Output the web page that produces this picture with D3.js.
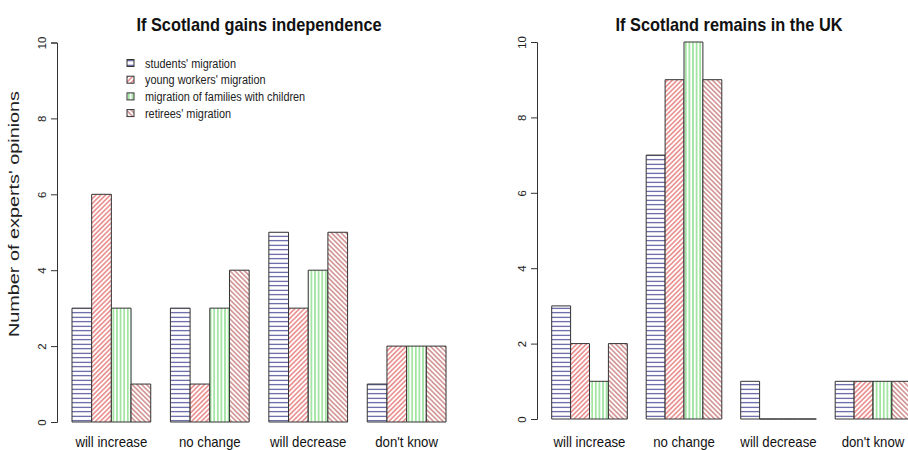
<!DOCTYPE html>
<html>
<head>
<meta charset="utf-8">
<script src="https://cdn.jsdelivr.net/npm/d3@7"></script>
<style>
  html, body { margin: 0; padding: 0; background: #fff; }
  svg { display: block; }
  text { font-family: "Liberation Sans", Arial, Helvetica, sans-serif; }
</style>
</head>
<body>
<svg id="chart" width="908" height="450"></svg>
<script>
// Answer categories along the x axis
const categories = ["will increase", "no change", "will decrease", "don't know"];
// Migration groups (bar series)
const seriesNames = [
  "students' migration",
  "young workers' migration",
  "migration of families with children",
  "retirees' migration"
];
// Experts' answers if Scotland gains independence
const indepStudents = [3, 3, 5, 1];
const indepYoung    = [6, 1, 3, 2];
const indepFamilies = [3, 3, 4, 2];
const indepRetirees = [1, 4, 5, 2];
// Experts' answers if Scotland remains in the UK
const ukStudents = [3, 7, 1, 1];
const ukYoung    = [2, 9, 0, 1];
const ukFamilies = [1, 10, 0, 1];
const ukRetirees = [2, 9, 0, 1];
// y axis ticks
const yTicks = [0, 2, 4, 6, 8, 10];

// The figure is slightly squeezed horizontally: text runs a bit narrower
// than its height suggests, and rotated text a bit longer.
const SQUEEZE = 0.88;
function fitLength(sel, factor) {
  sel.each(function () {
    const len = this.getComputedTextLength();
    d3.select(this)
      .attr("textLength", len * factor)
      .attr("lengthAdjust", "spacingAndGlyphs");
  });
}

const svg = d3.select("#chart");
const defs = svg.append("defs");

// Hatching styles, one per series
const hatch = [
  { id: "h-students", color: "#3c3c8e", angle: 90,  gap: 4.5 },
  { id: "h-young",    color: "#dc4a48", angle: 45,  gap: 3.4 },
  { id: "h-families", color: "#5ad05a", angle: 0,   gap: 3.6 },
  { id: "h-retirees", color: "#b65452", angle: -45, gap: 3.4 }
];
hatch.forEach(h => {
  const p = defs.append("pattern")
    .attr("id", h.id)
    .attr("patternUnits", "userSpaceOnUse")
    .attr("width", h.gap)
    .attr("height", h.gap)
    .attr("patternTransform", `rotate(${h.angle})`);
  p.append("rect").attr("width", h.gap).attr("height", h.gap).attr("fill", "#fff");
  p.append("line")
    .attr("x1", h.gap / 2).attr("x2", h.gap / 2)
    .attr("y1", -1).attr("y2", h.gap + 1)
    .attr("stroke", h.color).attr("stroke-width", 1);
});

function panel(cfg) {
  const g = svg.append("g");
  const x0 = d3.scaleBand().domain(categories)
    .range([cfg.left, cfg.right]).paddingInner(0.2).paddingOuter(0);
  const x1 = d3.scaleBand().domain(d3.range(seriesNames.length))
    .range([0, x0.bandwidth()]).padding(0);
  const y = d3.scaleLinear().domain([0, 10]).range([cfg.bottom, cfg.top]);

  const rows = [];
  categories.forEach((c, ci) => {
    cfg.series.forEach((vals, si) => rows.push({ c, si, v: vals[ci] }));
  });

  // bars as closed paths so zero-height bars still show as a baseline stroke
  g.selectAll("path.bar").data(rows).join("path")
    .attr("class", "bar")
    .attr("d", d => {
      const xa = x0(d.c) + x1(d.si), xb = xa + x1.bandwidth();
      const ya = y(0), yb = y(d.v);
      return `M${xa},${ya}H${xb}V${yb}H${xa}Z`;
    })
    .attr("fill", d => `url(#${hatch[d.si].id})`)
    .attr("stroke", "#333")
    .attr("stroke-width", 1);

  // y axis, base-graphics style: rotated tick labels
  const axis = g.append("g").attr("transform", `translate(${cfg.axisX},0)`)
    .call(d3.axisLeft(y).tickValues(yTicks).tickSize(6).tickPadding(4));
  axis.select(".domain").attr("stroke", "#333");
  axis.selectAll(".tick line").attr("stroke", "#333");
  axis.selectAll(".tick text")
    .attr("font-size", 10)
    .attr("fill", "#222")
    .attr("x", null).attr("dy", null)
    .attr("text-anchor", "middle")
    .attr("transform", "translate(-11.5,0) rotate(-90)")
    .call(fitLength, 1 / SQUEEZE);

  // category labels
  g.selectAll("text.cat").data(categories).join("text")
    .attr("class", "cat")
    .attr("x", d => x0(d) + x0.bandwidth() / 2)
    .attr("y", 447)
    .attr("text-anchor", "middle")
    .attr("font-size", 15)
    .attr("fill", "#111")
    .text(d => d)
    .call(fitLength, SQUEEZE);

  g.append("text")
    .attr("x", cfg.titleX).attr("y", 31)
    .attr("text-anchor", "middle")
    .attr("font-size", 19).attr("font-weight", "bold")
    .attr("fill", "#111")
    .text(cfg.title)
    .call(fitLength, 0.86);
  return g;
}

panel({
  title: "If Scotland gains independence",
  series: [indepStudents, indepYoung, indepFamilies, indepRetirees],
  left: 72, right: 446, top: 42.5, bottom: 422, axisX: 57, titleX: 259
});
panel({
  title: "If Scotland remains in the UK",
  series: [ukStudents, ukYoung, ukFamilies, ukRetirees],
  left: 551.7, right: 910.8, top: 42, bottom: 419, axisX: 537, titleX: 729
});

// y axis title
svg.append("text")
  .attr("transform", "translate(19,214) rotate(-90)")
  .attr("text-anchor", "middle")
  .attr("font-size", 15.5)
  .attr("fill", "#222")
  .text("Number of experts' opinions")
  .attr("textLength", 246)
  .attr("lengthAdjust", "spacingAndGlyphs");

// legend
const legend = svg.append("g").attr("transform", "translate(127,63)");
const items = legend.selectAll("g").data(seriesNames).join("g")
  .attr("transform", (d, i) => `translate(0,${i * 16.7})`);
items.append("rect")
  .attr("x", 0).attr("y", -3.5).attr("width", 7).attr("height", 7)
  .attr("fill", (d, i) => `url(#${hatch[i].id})`)
  .attr("stroke", "#333").attr("stroke-width", 1);
items.append("text")
  .attr("x", 18).attr("y", 4.5)
  .attr("font-size", 12.5)
  .attr("fill", "#222")
  .text(d => d)
  .call(fitLength, 0.87);
</script>
</body>
</html>
